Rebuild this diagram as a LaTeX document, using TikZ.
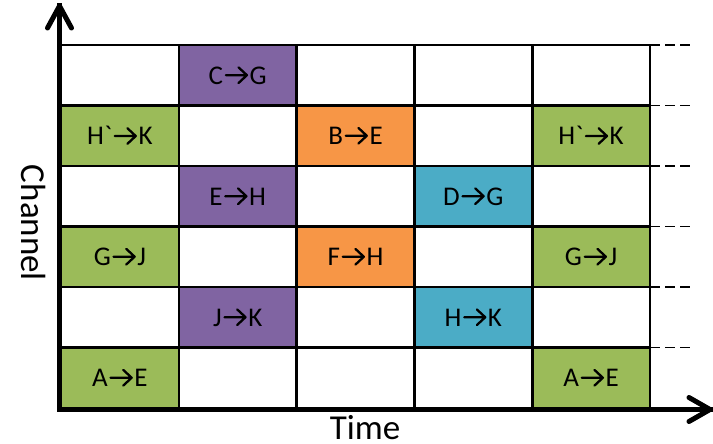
\documentclass[tikz,border=0pt]{standalone}
\usepackage{fontspec}
\setmainfont{Carlito}
\definecolor{cgreen}{HTML}{9BBB59}
\definecolor{cpurple}{HTML}{8064A2}
\definecolor{corange}{HTML}{F79646}
\definecolor{cteal}{HTML}{4BACC6}
\newcommand{\chev}{\kern0.06em\tikz[baseline=0pt,x=1pt,y=1pt]\draw[line width=0.085em,line cap=round,line join=round] (0,0.33em) -- (0.78em,0.33em) (0.47em,0.62em) -- (0.78em,0.33em) -- (0.47em,0.04em);\kern0.06em}
\tikzset{
  cell/.style={draw=black, line width=2.6pt, minimum width=117.8pt, minimum height=60.5pt,
    inner sep=0pt, outer sep=0pt, font=\fontsize{27}{31}\selectfont},
  axis/.style={line width=5pt, line cap=rect},
  axishead/.style={line width=5pt, line cap=round, line join=round},
  guide/.style={line width=1.6pt, dash pattern=on 10pt off 5pt},
  label/.style={font=\fontsize{35}{40}\selectfont, inner sep=0pt}
}
\begin{document}
\begin{tikzpicture}[x=1pt,y=-1pt]
\useasboundingbox (0,0) rectangle (713,444);
% cells
\foreach \i/\j/\col/\txt in {
  0/0/white/{}, 1/0/cpurple/{C\chev G}, 2/0/white/{}, 3/0/white/{}, 4/0/white/{},
  0/1/cgreen/{H\textasciigrave\chev K}, 1/1/white/{}, 2/1/corange/{B\chev E}, 3/1/white/{}, 4/1/cgreen/{H\textasciigrave\chev K},
  0/2/white/{}, 1/2/cpurple/{E\chev H}, 2/2/white/{}, 3/2/cteal/{D\chev G}, 4/2/white/{},
  0/3/cgreen/{G\chev J}, 1/3/white/{}, 2/3/corange/{F\chev H}, 3/3/white/{}, 4/3/cgreen/{G\chev J},
  0/4/white/{}, 1/4/cpurple/{J\chev K}, 2/4/white/{}, 3/4/cteal/{H\chev K}, 4/4/white/{},
  0/5/cgreen/{A\chev E}, 1/5/white/{}, 2/5/white/{}, 3/5/white/{}, 4/5/cgreen/{A\chev E}}
  \node[cell, fill=\col] (c\i\j) at ({61+117.8*(\i+0.5)},{45+60.5*(\j+0.5)}) {\txt};
% dashed guides
\foreach \j in {0,...,5}
  \draw[guide] (c4\j.north east) -- ++(42,0);
% axes
\coordinate (o) at (59.5,409.5);
\coordinate (ytip) at (59.5,6);
\coordinate (xtip) at (710,409.5);
\draw[axis] (o) -- (ytip);
\draw[axis] (o) -- (xtip);
\draw[axishead] ([shift={(-12,22)}]ytip) -- (ytip) -- ([shift={(12,22)}]ytip);
\draw[axishead] ([shift={(-21,-12)}]xtip) -- (xtip) -- ([shift={(-21,12)}]xtip);
% labels
\node[label, rotate=-90, anchor=base] (ch) at (21,223) {Channel};
\node[label, anchor=base] (tm) at (365,439) {Time};
\end{tikzpicture}
\end{document}
